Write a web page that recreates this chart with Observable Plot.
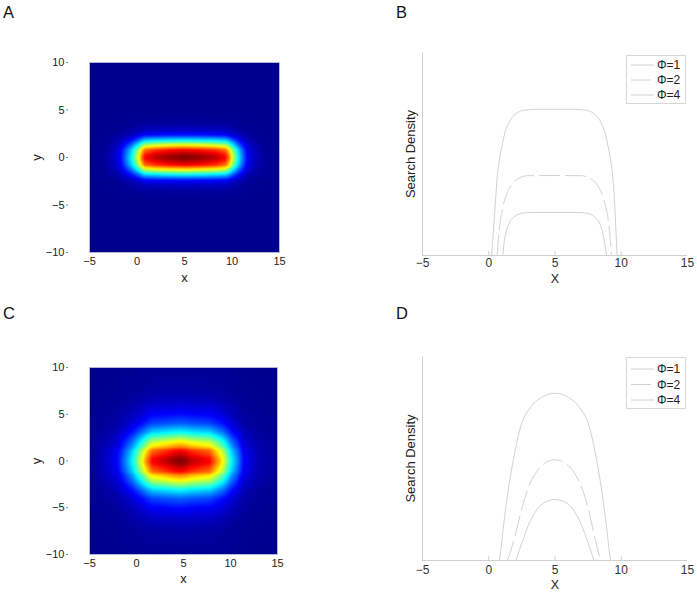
<!DOCTYPE html>
<html><head><meta charset="utf-8">
<script src="https://cdn.jsdelivr.net/npm/d3@7"></script>
<script src="https://cdn.jsdelivr.net/npm/@observablehq/plot@0.6"></script>
<style>
body{margin:0;background:#fff;font-family:"Liberation Sans",Arial,sans-serif;}
#wrap{position:relative;width:697px;height:592px;overflow:hidden;background:#fff;}
#wrap svg{position:absolute;overflow:visible;}
.letter{position:absolute;font-size:16.5px;line-height:16px;color:#111;}
</style></head><body><div id="wrap"></div>
<script>
// ---------- data ----------
const heatXTicks = [-5, 0, 5, 10, 15];
const heatYTicks = [-10, -5, 0, 5, 10];
const lineXTicks = [-5, 0, 5, 10, 15];
const seriesNames = ["Φ=1", "Φ=2", "Φ=4"];
const panelLetters = ["A", "B", "C", "D"];

// Panel A heat profile (x profile along y=0, y profile along x=5)
const aX  = [-5, -3.5, -2.4, -1.74, -1.15, -0.58, 0.2, 0.47, 0.82, 1.95, 3.5, 5, 6.5, 8.26, 9.3, 9.7, 9.97, 10.65, 11.1, 11.6, 12.3, 13.5, 15];
const aFx = [0, 0.01, 0.06, 0.125, 0.25, 0.375, 0.625, 0.75, 0.875, 0.94, 0.98, 1, 0.98, 0.94, 0.875, 0.75, 0.625, 0.375, 0.25, 0.125, 0.06, 0.01, 0];
const aY  = [-10, -4.5, -3.5, -2.8, -2.35, -1.8, -1.3, -1.05, -0.8, -0.45, -0.2, 0, 0.2, 0.45, 0.8, 1.05, 1.3, 1.8, 2.35, 2.8, 3.5, 4.5, 10];
const aGy = [0, 0, 0.02, 0.07, 0.15, 0.375, 0.625, 0.75, 0.875, 0.94, 0.985, 1, 0.985, 0.94, 0.875, 0.75, 0.625, 0.375, 0.15, 0.07, 0.02, 0, 0];

// Panel C heat profile
const cX  = [-5, -3.5, -2.05, -1.2, -0.43, 0.63, 1.1, 1.67, 3.2, 4.0, 4.6, 5.2, 5.8, 7.8, 8.5, 9.2, 10.1, 10.8, 11.4, 13, 15];
const cFx = [0.01, 0.05, 0.125, 0.25, 0.375, 0.625, 0.75, 0.875, 0.94, 0.98, 1, 0.98, 0.94, 0.875, 0.75, 0.625, 0.375, 0.25, 0.125, 0.04, 0.01];
const cY  = [-10, -7.5, -6.3, -5.1, -4.0, -3.1, -2.1, -1.5, -1.15, -0.6, -0.3, 0, 0.3, 0.6, 1.15, 1.5, 2.1, 3.1, 4.0, 5.1, 6.3, 7.5, 10];
const cGy = [0.005, 0.025, 0.06, 0.125, 0.22, 0.375, 0.625, 0.75, 0.875, 0.94, 0.985, 1, 0.985, 0.94, 0.875, 0.75, 0.625, 0.375, 0.22, 0.125, 0.06, 0.025, 0.005];

// Panel B curves (search density, relative units)
const bPhi1X = [0.21, 0.35, 0.5, 0.63, 0.8, 1.0, 1.2, 1.45, 1.8, 2.2, 2.7, 3.5, 5, 6.5, 7.3, 7.8, 8.2, 8.55, 8.8, 9.0, 9.2, 9.37, 9.5, 9.6, 9.69];
const bPhi1Y = [0, 0.12, 0.26, 0.38, 0.47, 0.54, 0.6, 0.645, 0.683, 0.705, 0.716, 0.72, 0.72, 0.72, 0.716, 0.705, 0.683, 0.645, 0.6, 0.54, 0.47, 0.38, 0.26, 0.12, 0];
const bPhi2X = [0.64, 0.75, 0.89, 1.05, 1.26, 1.55, 1.9, 2.4, 2.9, 5, 7.0, 7.5, 8.0, 8.35, 8.64, 8.85, 9.01, 9.15, 9.26];
const bPhi2Y = [0, 0.1, 0.18, 0.235, 0.285, 0.33, 0.362, 0.385, 0.393, 0.394, 0.393, 0.385, 0.362, 0.33, 0.285, 0.235, 0.18, 0.1, 0];
const bPhi4X = [1.06, 1.15, 1.28, 1.45, 1.65, 1.9, 2.2, 2.7, 3.2, 5, 6.7, 7.2, 7.7, 8.0, 8.25, 8.45, 8.62, 8.75, 8.89];
const bPhi4Y = [0, 0.06, 0.107, 0.145, 0.172, 0.19, 0.202, 0.21, 0.212, 0.212, 0.212, 0.21, 0.202, 0.19, 0.172, 0.145, 0.107, 0.06, 0];

// Panel D curves
const dPhi1X = [0.8, 0.94, 1.1, 1.39, 1.89, 2.4, 3.15, 4.0, 5.0, 6.0, 6.85, 7.6, 8.1, 8.6, 8.9, 9.06, 9.2];
const dPhi1Y = [0, 0.065, 0.16, 0.31, 0.506, 0.654, 0.75, 0.80, 0.82, 0.80, 0.75, 0.654, 0.506, 0.31, 0.16, 0.065, 0];
const dPhi2X = [1.43, 1.89, 2.4, 2.9, 3.67, 4.3, 5.0, 5.7, 6.35, 7.1, 7.6, 8.05, 8.44];
const dPhi2Y = [0, 0.098, 0.23, 0.343, 0.44, 0.48, 0.494, 0.48, 0.44, 0.343, 0.23, 0.098, 0];
const dPhi4X = [2.05, 2.65, 3.15, 3.92, 4.5, 5.0, 5.5, 6.1, 6.85, 7.35, 7.94];
const dPhi4Y = [0, 0.114, 0.196, 0.27, 0.293, 0.299, 0.293, 0.27, 0.196, 0.114, 0];

// ---------- styles ----------
const FONT = '"Liberation Sans", Arial, sans-serif';
const jetStops  = [0, 0.125, 0.25, 0.375, 0.5, 0.625, 0.75, 0.875, 1];
const jetColors = ["#00008f", "#0000ff", "#0080ff", "#00ffff", "#80ff80", "#ffff00", "#ff8000", "#ff0000", "#800000"];
const curveGray = "#d2d2d2";
const axisGray = "#d0d0d0";
const dashes = [null, "20,6", null];

const wrap = document.getElementById("wrap");

function place(svg, left, top) {
  svg.style.left = left + "px";
  svg.style.top = top + "px";
  wrap.appendChild(svg);
}

function heatPanel(xs, fx, ys, gy, box) {
  // the read profiles, looked up linearly between the read points
  const px = d3.scaleLinear(xs, fx).clamp(true);
  const py = d3.scaleLinear(ys, gy).clamp(true);
  const svg = Plot.plot({
    width: box.w, height: box.h,
    marginLeft: box.ml, marginRight: box.mr, marginTop: box.mt, marginBottom: box.mb,
    style: {fontFamily: FONT, fontSize: "11px", color: "#222", background: "transparent"},
    x: {domain: [-5, 15]},
    y: {domain: [-10, 10]},
    color: {type: "linear", domain: jetStops, range: jetColors, interpolate: "rgb", clamp: true},
    marks: [
      Plot.raster({fill: (x, y) => px(x) * py(y), x1: -5, x2: 15, y1: -10, y2: 10}),
      Plot.frame({stroke: "#c4c4dc", strokeWidth: 0.8}),
      Plot.axisY({ticks: heatYTicks, tickSize: 2, tickPadding: 2, dx: -21, stroke: "#888", fill: "#222", label: null}),
      Plot.axisX({ticks: heatXTicks, tickSize: 0, tickPadding: 5, fill: "#222", label: null}),
      Plot.text(["x"], {text: d => d, frameAnchor: "bottom", lineAnchor: "middle", textAnchor: "middle", dy: box.xlab, fontSize: 13, fill: "#222"}),
      Plot.text(["y"], {text: d => d, frameAnchor: "left", lineAnchor: "middle", textAnchor: "middle", dx: -53, rotate: -90, fontSize: 13, fill: "#222"})
    ]
  });
  place(svg, box.left, box.top);
}

function linePanel(curves, box) {
  const data = curves.flatMap((c, k) => c.x.map((x, i) => ({x, y: c.y[i], name: seriesNames[k]})));
  const marks = [
    Plot.ruleX([-5], {stroke: axisGray}),
    Plot.ruleY([0], {stroke: axisGray}),
    Plot.ruleX(lineXTicks.slice(1, -1), {y1: 0, y2: 0.02, stroke: axisGray}),
    Plot.axisX({ticks: lineXTicks, tickSize: 0, tickPadding: box.pad, fill: "#333", label: null}),
    Plot.text(["X"], {text: d => d, frameAnchor: "bottom", lineAnchor: "middle", textAnchor: "middle", dy: box.xlab, fontSize: 12.5, fill: "#222"}),
    Plot.text(["Search Density"], {text: d => d, frameAnchor: "left", lineAnchor: "middle", textAnchor: "middle", dx: -12, rotate: -90, fontSize: 13, fill: "#222"})
  ];
  seriesNames.forEach((n, k) => {
    marks.push(Plot.line(data.filter(d => d.name === n), {
      x: "x", y: "y", stroke: curveGray, strokeWidth: 1, curve: "monotone-x",
      strokeDasharray: dashes[k] || undefined
    }));
  });
  const svg = Plot.plot({
    width: box.w, height: box.h,
    marginLeft: box.ml, marginRight: box.mr, marginTop: box.mt, marginBottom: box.mb,
    style: {fontFamily: FONT, fontSize: "12px", color: "#222", background: "transparent"},
    x: {domain: [-5, 15]},
    y: {domain: [0, 1], axis: null},
    marks
  });
  place(svg, box.left, box.top);

  // legend
  const lg = box.legend;
  const s = d3.create("svg").attr("width", lg.w + 2).attr("height", lg.h + 2)
    .style("font-family", FONT).style("font-size", "12px");
  s.append("rect").attr("x", 0.5).attr("y", 0.5).attr("width", lg.w).attr("height", lg.h)
    .attr("fill", "#fff").attr("stroke", "#d8d8d8");
  seriesNames.forEach((n, k) => {
    const y = lg.y0 + k * lg.dy;
    s.append("line").attr("x1", 5).attr("x2", 28).attr("y1", y).attr("y2", y)
      .attr("stroke", curveGray).attr("stroke-dasharray", dashes[k]);
    s.append("text").attr("x", 31).attr("y", y).attr("dy", "0.35em").attr("fill", "#222").text(n);
  });
  place(s.node(), lg.left, lg.top);
}

heatPanel(aX, aFx, aY, aGy, {left: 0, top: 30, w: 300, h: 260, ml: 89, mr: 21, mt: 32, mb: 38, xlab: 25});
heatPanel(cX, cFx, cY, cGy, {left: 0, top: 330, w: 300, h: 262, ml: 89, mr: 23, mt: 37, mb: 38, xlab: 24});

linePanel([{x: bPhi1X, y: bPhi1Y}, {x: bPhi2X, y: bPhi2Y}, {x: bPhi4X, y: bPhi4Y}],
  {left: 390, top: 30, w: 307, h: 260, ml: 32, mr: 10, mt: 22, mb: 35, pad: 3, xlab: 23,
   legend: {left: 626, top: 55, w: 59, h: 48, y0: 10, dy: 15}});
linePanel([{x: dPhi1X, y: dPhi1Y}, {x: dPhi2X, y: dPhi2Y}, {x: dPhi4X, y: dPhi4Y}],
  {left: 390, top: 330, w: 307, h: 262, ml: 32, mr: 10, mt: 26, mb: 32, pad: 5, xlab: 24,
   legend: {left: 626, top: 357, w: 59, h: 51, y0: 12, dy: 15.5}});

const letterPos = [[3, 4], [396, 4], [3, 305], [396, 305]];
panelLetters.forEach((L, i) => {
  const d = document.createElement("div");
  d.className = "letter";
  d.textContent = L;
  d.style.left = letterPos[i][0] + "px";
  d.style.top = letterPos[i][1] + "px";
  wrap.appendChild(d);
});
</script>
</body></html>
